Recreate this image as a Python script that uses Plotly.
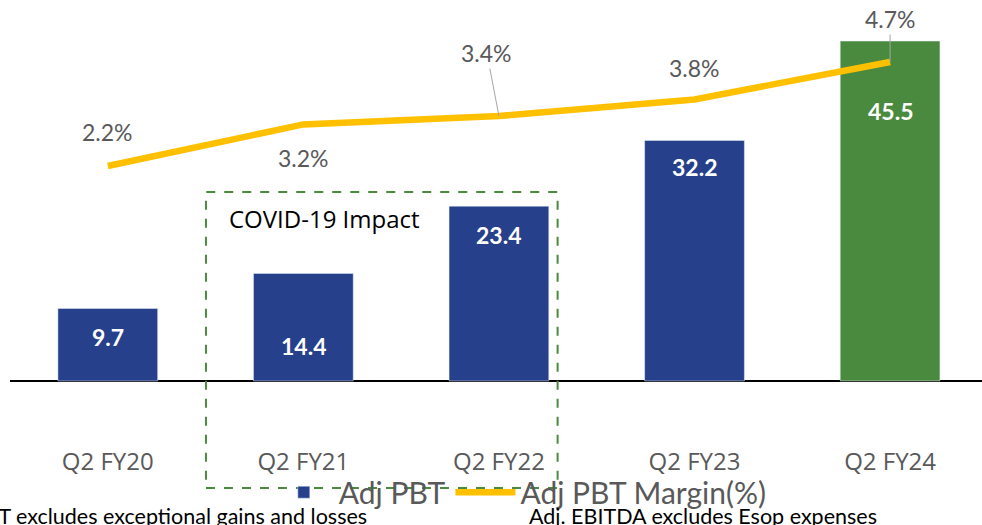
import plotly.graph_objects as go

quarters = ["Q2 FY20", "Q2 FY21", "Q2 FY22", "Q2 FY23", "Q2 FY24"]
adj_pbt = [9.7, 14.4, 23.4, 32.2, 45.5]
pbt_margin = [2.2, 3.2, 3.4, 3.8, 4.7]

BLUE = "#26408B"
GREEN = "#4A8A3F"
YELLOW = "#FFC000"
GREY = "#595959"
NARROW = "Lato, sans-serif"
WIDE = "Open Sans, sans-serif"

fig = go.Figure()

fig.add_trace(
    go.Bar(
        x=list(range(len(quarters))),
        y=adj_pbt,
        name="Adj PBT",
        marker_color=[BLUE, BLUE, BLUE, BLUE, GREEN],
        width=0.51,
    )
)

fig.add_trace(
    go.Scatter(
        x=list(range(len(quarters))),
        y=pbt_margin,
        name="Adj PBT Margin(%)",
        mode="lines",
        line=dict(color=YELLOW, width=6.5),
        yaxis="y2",
    )
)

# bar value labels (manual placement like the original slide)
bar_label_shift = [-28, -73, -29, -27, -70]
for i, v in enumerate(adj_pbt):
    fig.add_annotation(
        x=i, y=v, xref="x", yref="y", text=f"<b>{v}</b>", showarrow=False,
        yshift=bar_label_shift[i], font=dict(family=NARROW, size=23, color="white"),
    )

# margin labels
line_label_pos = [(0, 34, False), (0, -34, False), (-12, -63, True), (0, 31, False), (0, -43, True)]
for i, v in enumerate(pbt_margin):
    dx, dy, arrow = line_label_pos[i]
    if arrow:
        fig.add_annotation(
            x=i, y=v, xref="x", yref="y2", text=f"{v}%", showarrow=True,
            ax=dx, ay=dy, arrowhead=0, arrowwidth=1, arrowcolor="#A6A6A6",
            font=dict(family=NARROW, size=23, color=GREY),
        )
    else:
        fig.add_annotation(
            x=i, y=v, xref="x", yref="y2", text=f"{v}%", showarrow=False,
            yshift=dy, font=dict(family=NARROW, size=23, color=GREY),
        )

# COVID box
fig.add_shape(
    type="rect", xref="x", yref="paper", x0=0.502, x1=2.30, y0=-0.0966, y1=0.5685,
    line=dict(color=GREEN, width=2, dash="dash"), fillcolor="rgba(0,0,0,0)",
)
fig.add_annotation(
    x=0.61, y=0.51, xref="x", yref="paper", text="COVID-19 Impact", showarrow=False,
    xanchor="left", font=dict(family=WIDE, size=24, color="black"),
)

# footnotes
fig.add_annotation(
    x=(369 - 10) / 972, y=-0.126, xref="paper", yref="paper",
    text="Adj PBT excludes exceptional gains and losses", showarrow=False,
    xanchor="right", yanchor="top", font=dict(family=NARROW, size=21.5, color="black"),
)
fig.add_annotation(
    x=(527 - 10) / 972, y=-0.126, xref="paper", yref="paper",
    text="Adj. EBITDA excludes Esop expenses", showarrow=False,
    xanchor="left", yanchor="top", font=dict(family=NARROW, size=21.5, color="black"),
)

fig.update_layout(
    width=982,
    height=525,
    margin=dict(l=10, r=0, t=0, b=80),
    plot_bgcolor="white",
    paper_bgcolor="white",
    xaxis=dict(
        tickmode="array",
        tickvals=list(range(len(quarters))),
        ticktext=quarters,
        range=[-0.5, 4.47],
        showgrid=False,
        showline=False,
        ticks="",
        tickfont=dict(family=WIDE, size=24, color=GREY),
    ),
    yaxis=dict(
        range=[-8.57, 51.0],
        showgrid=False,
        showticklabels=False,
        zeroline=True,
        zerolinecolor="black",
        zerolinewidth=1.5,
    ),
    yaxis2=dict(
        range=[-4.507, 6.19],
        overlaying="y",
        side="right",
        showgrid=False,
        showticklabels=False,
        zeroline=False,
    ),
    legend=dict(
        orientation="h",
        x=0.525,
        xanchor="center",
        y=-0.106,
        yanchor="middle",
        font=dict(family=NARROW, size=30, color=GREY),
        bgcolor="rgba(0,0,0,0)",
        itemwidth=60,
    ),
)

fig.write_html(
    "out.html",
    config={"displayModeBar": False},
    post_script="document.body.style.margin='0';",
)
